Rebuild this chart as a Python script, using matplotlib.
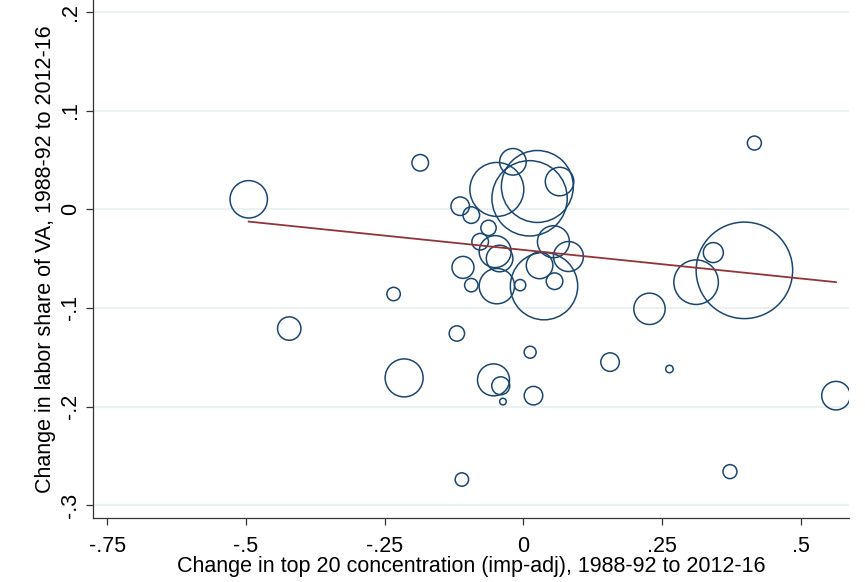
import matplotlib
matplotlib.use("Agg")
import matplotlib.pyplot as plt
import numpy as np

# Change in top 20 concentration (import-adjusted)
conc_change = [-0.495, -0.422, -0.234, -0.186, -0.019, -0.048, 0.025, 0.011, 0.065,
               -0.114, -0.094, -0.063, -0.078, -0.051, -0.043, 0.054, 0.081, 0.029,
               -0.109, -0.094, -0.048, 0.037, 0.056, -0.006, 0.416, 0.398, 0.342,
               0.311, 0.227, 0.156, 0.263, 0.563, -0.120, 0.012, -0.215, -0.054,
               -0.041, -0.037, 0.018, -0.111, 0.372]
# Change in labor share of value added
labor_change = [0.010, -0.121, -0.086, 0.047, 0.048, 0.020, 0.023, 0.011, 0.028,
                0.003, -0.006, -0.019, -0.033, -0.043, -0.050, -0.033, -0.048, -0.057,
                -0.059, -0.077, -0.078, -0.078, -0.073, -0.077, 0.067, -0.062, -0.044,
                -0.074, -0.101, -0.155, -0.162, -0.189, -0.126, -0.145, -0.171, -0.173,
                -0.179, -0.195, -0.189, -0.274, -0.266]
# Industry weights (relative size)
weights = [3.50, 1.37, 0.45, 0.69, 1.77, 7.29, 12.96, 14.21, 2.04,
           0.86, 0.69, 0.59, 0.69, 2.56, 1.77, 2.56, 2.25, 1.77,
           1.21, 0.45, 3.13, 11.36, 0.69, 0.32, 0.49, 23.33, 1.00,
           4.97, 2.46, 0.86, 0.14, 2.04, 0.59, 0.36, 3.61, 2.56,
           0.81, 0.11, 0.86, 0.45, 0.49]

# Weighted linear fit (intercept, slope)
fit_intercept = -0.0413
fit_slope = -0.058

x_ticks = [-0.75, -0.5, -0.25, 0, 0.25, 0.5]
x_tick_labels = ["-.75", "-.5", "-.25", "0", ".25", ".5"]
y_ticks = [-0.3, -0.2, -0.1, 0, 0.1, 0.2]
y_tick_labels = ["-.3", "-.2", "-.1", "0", ".1", ".2"]

plt.rcParams['font.family'] = ['Liberation Sans', 'DejaVu Sans']

fig = plt.figure(figsize=(8.65, 5.82), dpi=100)
ax = fig.add_axes([93.3/865, 1 - 518/582, (849.3-93.3)/865, 518/582])

navy = "#1a476f"
maroon = "#90353b"
grid_c = "#eaf2f3"

x = np.array(conc_change)
y = np.array(labor_change)
w = np.array(weights)

ax.scatter(x, y, s=w*207, facecolors="none", edgecolors=navy, linewidths=1.1, zorder=3)

xf = np.array([x.min(), x.max()])
ax.plot(xf, fit_intercept + fit_slope*xf, color=maroon, lw=1.3, zorder=4)

ax.set_xlim(-0.775, 0.587)
ax.set_ylim(-0.313, 0.212)
ax.set_xticks(x_ticks)
ax.set_xticklabels(x_tick_labels)
ax.set_yticks(y_ticks)
ax.set_yticklabels(y_tick_labels, rotation=90, va="center")

for yt in y_ticks:
    ax.axhline(yt, color=grid_c, lw=1.5, zorder=1)

for s in ["top", "right"]:
    ax.spines[s].set_visible(False)
for s in ["left", "bottom"]:
    ax.spines[s].set_color("#333333")
    ax.spines[s].set_linewidth(0.9)

ax.tick_params(axis="both", direction="out", length=5, width=0.9, color="#333333",
               labelsize=15.5, labelcolor="black")
ax.tick_params(axis="x", pad=8)
ax.tick_params(axis="y", pad=4)

ax.set_xlabel("Change in top 20 concentration (imp-adj), 1988-92 to 2012-16", fontsize=15.5, labelpad=-1)
ax.set_ylabel("Change in labor share of VA, 1988-92 to 2012-16", fontsize=15.5, labelpad=3)

fig.savefig("out.png", dpi=100, facecolor="white")
